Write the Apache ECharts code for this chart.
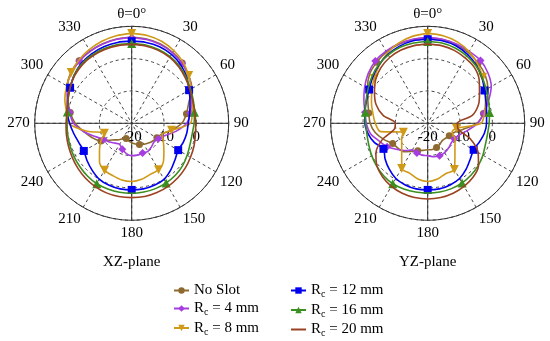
<!DOCTYPE html>
<html><head><meta charset="utf-8">
<script src="https://cdn.jsdelivr.net/npm/echarts@6/dist/echarts.min.js"></script>
<style>html,body{margin:0;padding:0;background:#fff}#c{width:550px;height:341px}</style>
</head><body><div id="c"></div>
<script>
const angles = [0,10,20,30,40,50,60,70,80,90,100,110,120,130,140,150,160,170,180,190,200,210,220,230,240,250,260,270,280,290,300,310,320,330,340,350,360];
const angleTickLabels = ['θ=0°','30','60','90','120','150','180','210','240','270','300','330'];
const radialTicks = [-20,-10,0,10];
const planeTitles = ['XZ-plane','YZ-plane'];
const seriesNames = ['No Slot','Rc = 4 mm','Rc = 8 mm','Rc = 12 mm','Rc = 16 mm','Rc = 20 mm'];

const xzNoSlot = [6.6,6.5,6.1,5.3,4.3,3.0,1.5,-1.2,-2.8,-4.5,-7.5,-10.2,-11,-11.5,-12,-12.5,-13,-13.5,-14,-14.5,-15,-14.5,-13.3,-12,-9,-7,-5,-2.5,-0.7,1,3,4.5,5.3,5.8,6.2,6.5,6.6];
const xzR4 = [6.5,6.3,5.9,5.2,4.2,2.9,1.4,-0.3,-1.6,-3,-6,-9,-10.5,-11,-10.5,-10,-10.2,-10,-10,-10.5,-11.5,-12.5,-12,-11,-10,-8,-5,-2,-0.5,1.2,3,4.3,5.1,5.7,6.1,6.4,6.5];
const xzR8 = [7.8,7.6,7,6,4.7,3,1.3,0,-1,-1.8,-7.5,-10,-8.7,-7,-4.7,-3.4,-3.2,-2.4,-2,-2.2,-2.8,-3.2,-4.5,-7,-9,-11,-6,-0.5,0.5,2,3.2,4.4,5.5,6.3,7,7.5,7.8];
const xzR12 = [5.4,5.4,5.2,4.6,3.6,2.2,0.5,-0.8,-1.8,-2.5,-2.7,-3,-3.4,-2.5,-1.2,0,0.4,0.6,0.6,0.6,0.4,0,-1,-2,-2.9,-2.6,-1.8,-0.8,0.2,1.1,2,3.2,4.2,4.8,5.2,5.4,5.4];
const xzR16 = [4.7,4.6,4.3,3.8,3,2,1,0.3,-0.3,-0.7,-1,-0.8,-0.2,0.5,1,1.3,1.5,1.6,1.65,1.65,1.6,1.6,1.3,0.9,0.6,0.3,0.1,0,0.2,1,2,3.2,4,4.4,4.6,4.7,4.7];
const xzR20 = [4.4,4.3,4,3.5,2.7,1.7,0.8,0.1,-0.2,-0.2,0,0.5,1,1.6,2.1,2.5,2.8,3,3,3,2.9,2.6,2.2,1.7,1.2,0.8,0.5,0.3,0.3,1,2,3,3.7,4.1,4.3,4.4,4.4];

const yzNoSlot = [6.5,6.3,5.9,5.2,4.3,3.2,1.5,-0.5,-2.5,-4.8,-9,-11.5,-12.3,-12.8,-13,-12.5,-12,-11.8,-11.8,-11.5,-11,-10,-8.5,-8,-7.5,-5.5,-3.5,-2.2,-1.5,-0.3,1.5,3.5,4.6,5.5,6,6.3,6.5];
const yzR4 = [6.5,6.4,6.1,5.7,5.4,4.3,2.7,0,-2.4,-4.5,-7.5,-9.5,-10.5,-10.5,-10,-9.5,-9.3,-9.5,-10,-10,-10.2,-10.5,-9,-7.5,-5.5,-4,-2,-1,-0.3,1,2.5,4,5.2,5.8,6.2,6.4,6.5];
const yzR8 = [7.8,7.5,6.8,5.6,4,2.2,0.5,-1,-2.2,-3.5,-11,-12,-10.2,-9,-6.9,-3.5,-3.5,-2.5,-2,-2.5,-3.6,-3.9,-7.5,-9.5,-10.7,-12,-5.2,-3.8,-2.8,-1.5,0,1.6,3.3,5,6.4,7.3,7.8];
const yzR12 = [6,5.9,5.5,4.6,3.4,1.9,0.3,-0.8,-1.5,-1.8,-2.2,-3,-3.6,-2.8,-1.5,-0.3,0.3,0.6,0.6,0.6,0.3,-0.3,-1.5,-2.8,-4.2,-2.5,-1.3,-0.6,-0.3,0.2,0.9,2.2,3.5,4.6,5.4,5.9,6];
const yzR16 = [5.3,5.2,4.8,4.1,3.2,2,0.9,0,-0.6,-1,-1.2,-1,-0.3,0.4,0.9,1.3,1.5,1.6,1.6,1.6,1.6,1.6,1.2,0.6,0,-0.6,-0.9,-0.8,-0.4,0.3,1.3,2.5,3.6,4.4,5,5.2,5.3];
const yzR20 = [4.5,4.4,4,3.3,2.5,0.8,-1.5,-3.3,-6,-10.8,-10.5,-6,-2,0.5,1.8,2.5,3,3.3,3.4,3.3,3,2.5,1.7,0.5,-1.5,-5,-9.5,-10,-6,-3,-1,1,2.5,3.5,4.1,4.4,4.5];

const FONT = 'Liberation Serif';
// legend-only glyph: a thin bar inside a square bounding box (so it reads as a plain line)
const FLAT = 'path://M0,0h1v0h-1zM0,19.5h40v1h-40zM0,40h1v0h-1z';
const styles = [
  {color:'#8E6A30', symbol:'circle', size:7, rot:0, marks:[40,80,120,160,200,240,280,320]},
  {color:'#A63DE0', symbol:'diamond', size:8, rot:0, marks:[0,40,80,120,160,200,240,280,320]},
  {color:'#D09A18', symbol:'triangle', size:9, rot:180, marks:[0,50,100,150,210,250,310]},
  {color:'#0000EE', symbol:'rect', size:8, rot:0, marks:[0,60,120,180,240,300]},
  {color:'#3A8F1E', symbol:'triangle', size:9, rot:0, marks:[0,80,150,210,280]},
  {color:'#9A4222', symbol:FLAT, size:8, rot:0, marks:[]}
];
const planes = [
  {center:[131.7,123.3], data:[xzNoSlot,xzR4,xzR8,xzR12,xzR16,xzR20]},
  {center:[427.7,123.3], data:[yzNoSlot,yzR4,yzR8,yzR12,yzR16,yzR20]}
];
const R = 97;

const polar = [], angleAxis = [], radiusAxis = [], series = [];
planes.forEach((p, pi) => {
  polar.push({center:p.center, radius:R});
  angleAxis.push({polarIndex:pi, type:'value', startAngle:90, clockwise:true, min:0, max:360, interval:30,
    axisLine:{lineStyle:{color:'#333', width:1}}, axisTick:{show:false},
    axisLabel:{margin:5, color:'#000', fontSize:15, fontFamily:FONT, formatter:v => angleTickLabels[Math.round(v/30)] || ''},
    splitLine:{show:true, lineStyle:{type:[3,3], color:'#444', width:1}}});
  radiusAxis.push({polarIndex:pi, type:'value', min:radialTicks[0], max:radialTicks[radialTicks.length-1], interval:10,
    axisLine:{show:false}, axisTick:{show:false}, axisLabel:{show:false},
    splitLine:{show:true, lineStyle:{type:[3,3], color:'#444', width:1}}});
});
planes.forEach((p, pi) => {
  const idx = planes.length + pi;
  polar.push({center:p.center, radius:R});
  angleAxis.push({polarIndex:idx, type:'value', startAngle:0, clockwise:true, min:0, max:360, interval:90,
    axisLine:{show:false}, axisTick:{show:false}, axisLabel:{show:false},
    splitLine:{show:true, lineStyle:{type:'solid', color:'#333', width:1}}});
  radiusAxis.push({polarIndex:idx, type:'value', min:radialTicks[0], max:radialTicks[radialTicks.length-1], interval:10,
    axisLine:{show:false}, axisTick:{show:false}, splitLine:{show:false},
    axisLabel:{show:true, margin:-21, color:'#000', fontSize:15, fontFamily:FONT, showMaxLabel:false,
      formatter:v => (v >= 10 ? '' : String(v))}});
});
planes.forEach((p, pi) => {
  p.data.forEach((vals, si) => {
    const st = styles[si];
    series.push({
      name: seriesNames[si], type:'line', coordinateSystem:'polar', polarIndex:pi,
      smooth:0.3, symbol:st.symbol, symbolSize:st.size, symbolRotate:st.rot,
      showSymbol:st.marks.length > 0,
      lineStyle:{color:st.color, width:1.6}, itemStyle:{color:st.color},
      data: angles.map((a, i) => {
        const d = {value:[vals[i], a]};
        if (st.marks.indexOf(a) < 0) d.symbol = 'none';
        return d;
      }),
      z: 3 + si
    });
  });
});

const fmt = name => name.indexOf('Rc') === 0 ? '{n|R}{s|c}{n|' + name.slice(2) + '}' : '{n|' + name + '}';
const legendText = {color:'#000', fontFamily:FONT, fontSize:15,
  rich:{n:{fontFamily:FONT, fontSize:15, lineHeight:18, color:'#000'}, s:{fontFamily:FONT, fontSize:10, lineHeight:8, verticalAlign:'bottom', color:'#000'}}};
const legendCommon = {orient:'vertical', top:283, padding:0, height:70, itemWidth:15, itemHeight:8, itemGap:3,
  selectedMode:false, formatter:fmt, textStyle:legendText};
const legend = [
  Object.assign({data:seriesNames.slice(0,3), left:173}, legendCommon),
  Object.assign({data:seriesNames.slice(3), left:290}, legendCommon)
];

const chart = echarts.init(document.getElementById('c'), null, {renderer:'canvas'});
chart.setOption({
  animation:false, backgroundColor:'#fff',
  polar, angleAxis, radiusAxis, series, legend,
  graphic: planes.map((p, pi) => ({type:'text', x:p.center[0], y:262,
    style:{text:planeTitles[pi], align:'center', verticalAlign:'middle', fontSize:15, fontFamily:FONT, fill:'#000'}}))
});
</script></body></html>
